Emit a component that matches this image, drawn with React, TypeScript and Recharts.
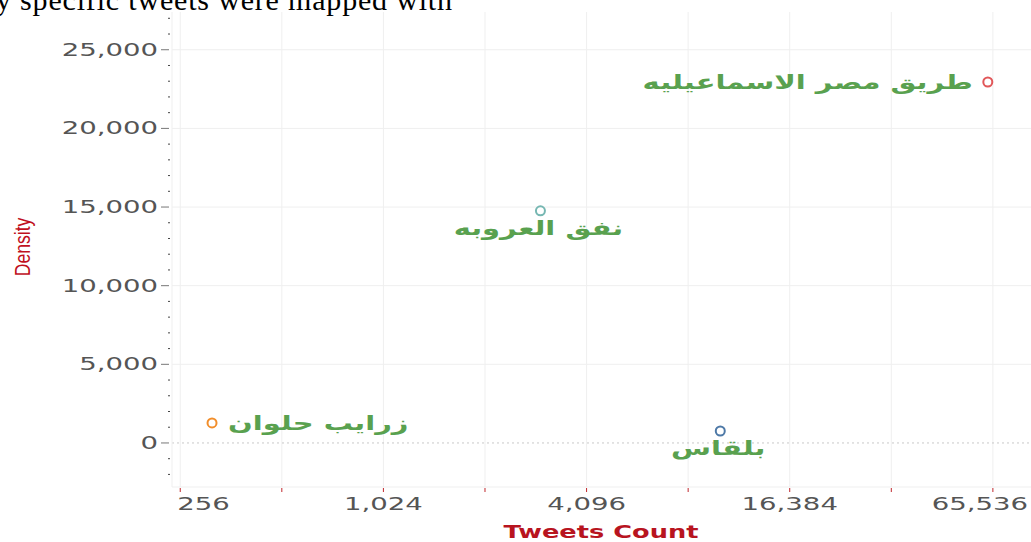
import React from "react";
import {
  ScatterChart,
  Scatter,
  XAxis,
  YAxis,
  CartesianGrid,
  ReferenceLine,
} from "recharts";

const places = ["طريق مصر الاسماعيليه", "نفق العروبه", "زرايب حلوان", "بلقاس"];
const tweets = [63300, 2990, 318, 10200];
const density = [22950, 14760, 1270, 760];
const colors = ["#e15759", "#76b7b2", "#f28e2b", "#4e79a7"];

const xTicks = [256, 512, 1024, 2048, 4096, 8192, 16384, 32768, 65536];
const xLabeled = [256, 1024, 4096, 16384, 65536];
const yMajor = [0, 5000, 10000, 15000, 20000, 25000];
const yTicks = [-2000, -1000, 0, 1000, 2000, 3000, 4000, 5000, 6000, 7000, 8000, 9000, 10000, 11000, 12000, 13000, 14000, 15000, 16000, 17000, 18000, 19000, 20000, 21000, 22000, 23000, 24000, 25000, 26000, 27000];

// where each label sits relative to its mark
const placement: Record<string, "left" | "right" | "below"> = {
  "طريق مصر الاسماعيليه": "left",
  "نفق العروبه": "below",
  "زرايب حلوان": "right",
  "بلقاس": "below",
};

const fmt = (v: number) => v.toLocaleString("en-US");
const tickFont = "DejaVu Sans";
const SX = 1.62;

const YTick = (props: any) => {
  const { x, y, payload } = props;
  const v = payload.value;
  const major = v % 5000 === 0;
  return (
    <g>
      {major ? (
        <line x1={x - 11} x2={x - 3} y1={y} y2={y} stroke="#777" />
      ) : (
        <line x1={x - 4} x2={x - 2} y1={y} y2={y} stroke="#444" />
      )}
      {major && (
        <text
          transform={`translate(${x - 14},${y + 6}) scale(${SX},1)`}
          textAnchor="end"
          fontFamily={tickFont}
          fontSize={17}
          fill="#555"
        >
          {fmt(v)}
        </text>
      )}
    </g>
  );
};

const XTick = (props: any) => {
  const { x, y, payload } = props;
  const v = payload.value;
  const labeled = xLabeled.includes(v);
  let tx = x;
  let anchor: "start" | "middle" | "end" = "middle";
  if (v === 256) {
    tx = x - 3;
    anchor = "start";
  } else if (v === 65536) {
    tx = 1028;
    anchor = "end";
  }
  return (
    <g>
      <line x1={x} x2={x} y1={y + 1} y2={y + 5} stroke="#c0282d" />
      {labeled && (
        <text
          transform={`translate(${tx},${y + 23}) scale(${SX},1)`}
          textAnchor={anchor}
          fontFamily={tickFont}
          fontSize={17}
          fill="#555"
        >
          {fmt(v)}
        </text>
      )}
    </g>
  );
};

const makeShape = (color: string) => (props: any) => {
  const { cx, cy, payload } = props;
  const pos = placement[payload.name];
  let tx = cx;
  let ty = cy + 7;
  let anchor: "start" | "middle" | "end" = "middle";
  if (pos === "left") {
    tx = cx - 15;
    anchor = "end";
  } else if (pos === "right") {
    tx = cx + 16;
    anchor = "start";
  } else {
    tx = cx - 2;
    ty = cy + 24;
  }
  return (
    <g>
      <circle cx={cx} cy={cy} r={4.5} fill="#fff" stroke={color} strokeWidth={2} />
      <text
        transform={`translate(${tx},${ty}) scale(1.45,1)`}
        textAnchor={anchor}
        fontFamily="DejaVu Sans"
        fontWeight="bold"
        fontSize={20}
        fill="#59a14f"
      >
        {payload.name}
      </text>
    </g>
  );
};

const series = places.map((name, i) => ({
  name,
  color: colors[i],
  data: [{ name, tweets: tweets[i], density: density[i] }],
}));

export default function App() {
  return (
    <div style={{ position: "absolute", left: 0, top: 0, width: 1031, height: 542, background: "#fff", overflow: "hidden" }}>
      <svg width={1031} height={40} style={{ position: "absolute", left: 0, top: 0 }}>
        <text x={-4} y={10} fontFamily="Liberation Serif" fontSize={30} fill="#000" textLength={456}>
          y specific tweets were mapped with
        </text>
      </svg>
      <ScatterChart width={1031} height={542} margin={{ top: 12, right: 0, left: 0, bottom: 0 }}>
        <CartesianGrid
          stroke="#efefef"
          horizontalValues={yMajor.filter((v) => v !== 0)}
          verticalValues={xTicks}
        />
        <XAxis
          type="number"
          dataKey="tweets"
          scale="log"
          domain={[242, 85000]}
          allowDataOverflow
          ticks={xTicks}
          interval={0}
          tick={<XTick />}
          tickLine={false}
          tickSize={0}
          tickMargin={0}
          height={55}
          axisLine={{ stroke: "#efefef" }}
          label={{
            content: () => (
              <text
                transform="translate(601,538) scale(1.51,1)"
                textAnchor="middle"
                fontFamily="DejaVu Sans"
                fontWeight="bold"
                fontSize={17}
                fill="#b8141f"
              >
                Tweets Count
              </text>
            ),
          }}
        />
        <YAxis
          type="number"
          dataKey="density"
          domain={[-2800, 27400]}
          allowDataOverflow
          ticks={yTicks}
          interval={0}
          tick={<YTick />}
          tickLine={false}
          tickSize={0}
          tickMargin={0}
          width={172}
          axisLine={{ stroke: "#efefef" }}
          label={{
            content: () => (
              <text
                transform="translate(30,247) rotate(-90) scale(0.8,1)"
                textAnchor="middle"
                fontFamily="Liberation Sans Narrow, Liberation Sans"
                fontSize={22}
                fill="#c0101d"
              >
                Density
              </text>
            ),
          }}
        />
        <ReferenceLine y={0} stroke="#c8c8c8" strokeDasharray="2 3" />
        {series.map((s) => (
          <Scatter
            key={s.name}
            name={s.name}
            data={s.data}
            fill={s.color}
            shape={makeShape(s.color)}
            isAnimationActive={false}
          />
        ))}
      </ScatterChart>
    </div>
  );
}
